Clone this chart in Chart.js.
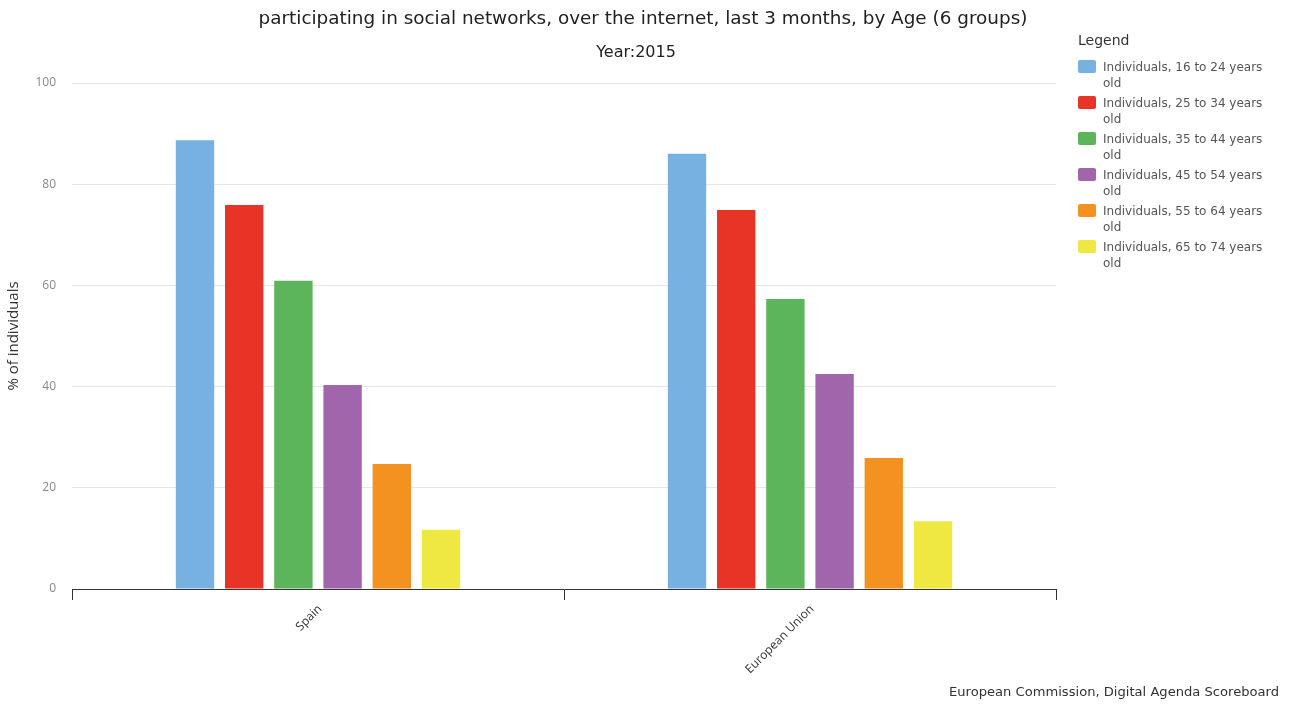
<!DOCTYPE html>
<html>
<head>
<meta charset="utf-8">
<script src="https://cdn.jsdelivr.net/npm/chart.js@4/dist/chart.umd.min.js"></script>
<style>
  html, body { margin: 0; padding: 0; background: #fff; }
  #wrap { position: relative; width: 1292px; height: 704px; font-family: "DejaVu Sans", sans-serif; }
  #chart { position: absolute; left: 0; top: 0; }
  .title { position: absolute; left: 0; width: 1292px; text-align: center; color: #222; white-space: nowrap; }
  #legend { position: absolute; left: 1078px; top: 32px; color: #555; }
  #legend .head { font-size: 14px; color: #333; margin-bottom: 11px; }
  #legend .item { position: relative; height: 36px; }
  #legend .box { position: absolute; left: 0; top: 1px; width: 18px; height: 13px; border-radius: 2px; }
  #legend .txt { position: absolute; left: 25px; top: 0; width: 170px; font-size: 12px; line-height: 16px; }
  #credits { position: absolute; right: 13px; top: 684px; font-size: 13.1px; color: #333; }
</style>
</head>
<body>
<div id="wrap">
  <canvas id="chart" width="1292" height="704"></canvas>
  <div class="title" id="t1" style="top:7px;font-size:18.4px;left:-3px;"></div>
  <div class="title" id="t2" style="top:42px;font-size:16px;left:-10px;"></div>
  <div id="legend"></div>
  <div id="credits"></div>
</div>
<script>
const titleText = "participating in social networks, over the internet, last 3 months, by Age (6 groups)"
const subtitleText = "Year:2015"
const creditsText = "European Commission, Digital Agenda Scoreboard"
const yTitle = "% of individuals"

const countries = ["Spain", "European Union"]
const ageGroups = [
  "Individuals, 16 to 24 years old",
  "Individuals, 25 to 34 years old",
  "Individuals, 35 to 44 years old",
  "Individuals, 45 to 54 years old",
  "Individuals, 55 to 64 years old",
  "Individuals, 65 to 74 years old"
]
const colors = ["#76b1e1", "#e83426", "#5cb55b", "#a065aa", "#f39221", "#efe842"]

// one value per country, per age group
const age16to24 = [88.7, 86.0]
const age25to34 = [75.9, 74.9]
const age35to44 = [60.9, 57.3]
const age45to54 = [40.3, 42.5]
const age55to64 = [24.7, 25.9]
const age65to74 = [11.7, 13.4]
const series = [age16to24, age25to34, age35to44, age45to54, age55to64, age65to74]

const yTicks = [0, 20, 40, 60, 80, 100]

document.getElementById('t1').textContent = titleText
document.getElementById('t2').textContent = subtitleText
document.getElementById('credits').textContent = creditsText

const legend = document.getElementById('legend')
legend.innerHTML = '<div class="head">Legend</div>' + ageGroups.map((g, i) =>
  `<div class="item"><span class="box" style="background:${colors[i]}"></span><span class="txt">${g}</span></div>`
).join('')

new Chart(document.getElementById('chart').getContext('2d'), {
  type: 'bar',
  data: {
    labels: countries,
    datasets: series.map((vals, i) => ({
      label: ageGroups[i],
      data: vals,
      backgroundColor: colors[i],
      borderWidth: 0,
      categoryPercentage: 0.6,
      barPercentage: 0.78
    }))
  },
  options: {
    responsive: false,
    animation: false,
    layout: { padding: { top: 83, right: 236, bottom: 0, left: 0 } },
    plugins: { legend: { display: false }, title: { display: false }, tooltip: { enabled: false } },
    scales: {
      x: {
        afterFit: s => { s.height = 115 },
        grid: { drawOnChartArea: false, drawTicks: true, tickLength: 11, color: '#333', offset: true },
        border: { color: '#333' },
        ticks: {
          minRotation: 45, maxRotation: 45, labelOffset: 2, padding: 2,
          color: '#333', font: { family: 'Open Sans', size: 12 }
        }
      },
      y: {
        min: 0, max: 100,
        afterFit: s => { s.width = 72 },
        afterBuildTicks: s => { s.ticks = yTicks.map(v => ({ value: v })) },
        grid: { color: '#e6e6e6', drawTicks: false },
        border: { display: false },
        ticks: { padding: 16, color: '#888', font: { family: 'Open Sans', size: 12 } },
        title: { display: true, text: yTitle, color: '#333', padding: { top: 5, bottom: 0 }, font: { family: 'Open Sans', size: 15 } }
      }
    }
  }
})
</script>
</body>
</html>
